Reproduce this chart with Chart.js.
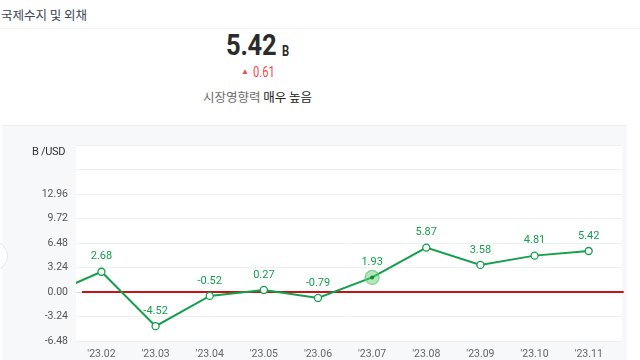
<!DOCTYPE html>
<html><head><meta charset="utf-8">
<script src="https://cdn.jsdelivr.net/npm/chart.js@4.4.1/dist/chart.umd.min.js"></script>
<style>
html,body{margin:0;padding:0;background:#fff;width:640px;height:360px;overflow:hidden;font-family:Roboto,"Noto Sans CJK KR",sans-serif;}
#title{position:absolute;left:1px;top:5px;font:12.5px "Noto Sans CJK KR";color:#3b4656;}
#sep{position:absolute;left:0;top:28px;width:640px;height:1px;background:#f3f4f6;}
#num{position:absolute;left:226px;top:28px;font:bold 29px Roboto;color:#2b2b2b;transform:scaleX(0.88);transform-origin:left center;letter-spacing:-0.3px;}
#unit{position:absolute;left:282px;top:43px;font:bold 14px Roboto;color:#2b2b2b;transform:scaleX(0.8);transform-origin:left center;}
#chg{position:absolute;left:241px;top:64px;font:14px Roboto;color:#f5484e;}
#chg span{font-size:8px;vertical-align:3px;margin-right:4px;}
#chg i{font-style:normal;display:inline-block;transform:scaleX(0.8);transform-origin:left center;}
#imp{position:absolute;left:203px;top:87px;font:12.5px "Noto Sans CJK KR";color:#6b6b6b;}
#imp b{font-weight:normal;color:#222;}
#panel{position:absolute;left:2px;top:125px;width:625px;height:235px;background:#f7f8fa;border-top:1px solid #eceef2;box-sizing:border-box;}
#cv{position:absolute;left:2px;top:125px;}
#yt{position:absolute;left:32px;top:145px;font:11px Roboto;color:#333;letter-spacing:-0.3px;}
#circ{position:absolute;left:-22px;top:241px;width:28px;height:28px;border-radius:50%;background:#fff;border:1px solid #e3e5e8;}
</style></head><body>
<div id="title">국제수지 및 외채</div>
<div id="sep"></div>
<div id="num">5.42</div><div id="unit">B</div>
<div id="chg"><span>▲</span><i>0.61</i></div>
<div id="imp">시장영향력 <b>매우 높음</b></div>
<div id="panel"></div>
<canvas id="cv" width="625" height="235"></canvas>
<div id="yt">B /USD</div>
<div id="circ"></div>
<script>
const months = ["'23.01","'23.02","'23.03","'23.04","'23.05","'23.06","'23.07","'23.08","'23.09","'23.10","'23.11"];
const balance = [-0.45, 2.68, -4.52, -0.52, 0.27, -0.79, 1.93, 5.87, 3.58, 4.81, 5.42];
const yTicks = [-6.48, -3.24, 0.00, 3.24, 6.48, 9.72, 12.96];
const yRange = [-6.48, 19.44];
const highlightIndex = 6;

const GREEN = '#13a04b';
const pts = balance.map((v, i) => ({x: i, y: v}));
const zeroLine = months.concat(['']).map((_, i) => ({x: i, y: 0}));

const bgPlugin = {
  id: 'bg',
  beforeDraw(chart) {
    const a = chart.chartArea, c = chart.ctx;
    c.save(); c.fillStyle = '#fff'; c.fillRect(a.left, a.top, a.right - a.left, a.bottom - a.top); c.restore();
  }
};
const labelPlugin = {
  id: 'vlabels',
  afterDatasetsDraw(chart) {
    const meta = chart.getDatasetMeta(1), a = chart.chartArea, c = chart.ctx;
    c.save();
    c.font = '11px Roboto'; c.fillStyle = GREEN; c.textAlign = 'center'; c.textBaseline = 'middle';
    meta.data.forEach((p, i) => {
      if (p.x < a.left || p.x > a.right) return;
      c.fillText(balance[i].toFixed(2), p.x, p.y - 15);
    });
    c.restore();
  }
};

new Chart(document.getElementById('cv'), {
  type: 'line',
  data: {
    datasets: [
      { data: pts, showLine: false, pointRadius: balance.map((_, i) => i === highlightIndex ? 2 : 0),
        pointBackgroundColor: '#0a8a35', pointBorderWidth: 0 },
      { data: pts, borderColor: GREEN, borderWidth: 2, tension: 0,
        pointRadius: balance.map((_, i) => i === highlightIndex ? 7 : 3.5),
        pointBackgroundColor: balance.map((_, i) => i === highlightIndex ? 'rgba(90,200,110,0.45)' : '#fff'),
        pointBorderColor: balance.map((_, i) => i === highlightIndex ? 'rgba(90,200,110,0.7)' : GREEN),
        pointBorderWidth: 1.3 },
      { data: zeroLine, borderColor: '#c8121a', borderWidth: 2.2, pointRadius: 0,
        clip: {left: -6, right: 2, top: 0, bottom: 0} }
    ]
  },
  options: {
    responsive: false, animation: false,
    layout: { padding: { top: 20, right: 1, left: 0, bottom: 0 } },
    plugins: { legend: { display: false }, tooltip: { enabled: false } },
    scales: {
      x: {
        type: 'linear', min: 0.53, max: 10.61,
        afterBuildTicks(s) { s.ticks = months.map((_, i) => ({value: i})).filter(t => t.value >= s.min && t.value <= s.max); },
        afterFit(s) { s.height = 19; },
        grid: { display: false, drawTicks: false },
        border: { display: false },
        ticks: { padding: 7, color: '#666', font: { size: 10.5, family: 'Roboto' }, maxRotation: 0, autoSkip: false,
          callback: v => months[v] }
      },
      y: {
        min: yRange[0], max: yRange[1],
        afterBuildTicks(s) { const t = []; for (let v = yRange[0]; v <= yRange[1] + 1e-6; v += 3.24) t.push({value: +v.toFixed(2)}); s.ticks = t; },
        afterFit(s) { s.width = 74; },
        border: { display: false },
        grid: { drawTicks: false, color: c => c.tick && Math.abs(c.tick.value) < 1e-6 ? '#cfdff3' : '#eef0f3' },
        ticks: { padding: 8, color: '#555', font: { size: 10.5, family: 'Roboto' },
          callback: v => yTicks.some(t => Math.abs(t - v) < 1e-6) ? v.toFixed(2) : '' }
      }
    }
  },
  plugins: [bgPlugin, labelPlugin]
});
</script>
</body></html>
